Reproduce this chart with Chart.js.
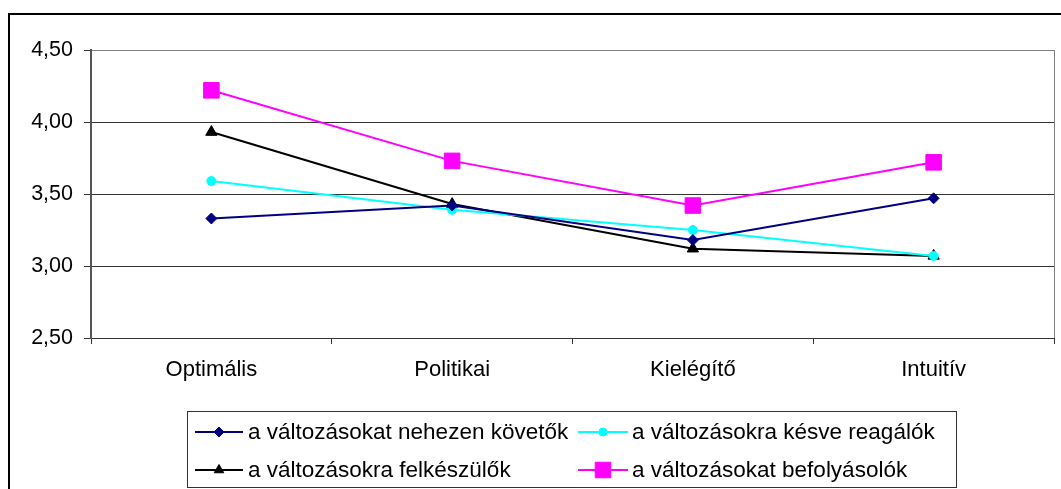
<!DOCTYPE html>
<html>
<head>
<meta charset="utf-8">
<script src="https://cdn.jsdelivr.net/npm/chart.js"></script>
<style>
  html, body { margin: 0; padding: 0; background: #fff; }
  #wrap { width: 1061px; height: 489px; position: relative; }
</style>
</head>
<body>
<div id="wrap"><canvas id="chart"></canvas></div>
<script>
const categories = ["Optimális", "Politikai", "Kielégítő", "Intuitív"];
const seriesNames = [
  "a változásokat nehezen követők",
  "a változásokra késve reagálók",
  "a változásokra felkészülők",
  "a változásokat befolyásolók"
];
const nehezenKovetok = [3.33, 3.42, 3.18, 3.47];
const kesveReagalok = [3.59, 3.39, 3.25, 3.07];
const felkeszulok = [3.93, 3.43, 3.12, 3.07];
const befolyasolok = [4.22, 3.73, 3.42, 3.72];
const yTicks = [2.5, 3.0, 3.5, 4.0, 4.5];

const FONT = "'Liberation Sans', Arial, sans-serif";

function series(label, data, color, style, radius) {
  return {
    label: label,
    data: data,
    borderColor: color,
    backgroundColor: color,
    borderWidth: 2,
    pointStyle: style,
    pointRadius: radius,
    pointHoverRadius: radius,
    pointBorderWidth: 1,
    pointBackgroundColor: color,
    pointBorderColor: color,
    tension: 0,
    fill: false
  };
}

// legend + borders drawn by hand, like the Excel original
const frame = {
  id: "frame",
  afterDraw(chart) {
    const ctx = chart.ctx;
    const area = chart.chartArea;
    ctx.save();

    // plot area right edge
    ctx.strokeStyle = "#808080";
    ctx.lineWidth = 1;
    ctx.beginPath();
    ctx.moveTo(Math.round(area.right) + 0.5, area.top);
    ctx.lineTo(Math.round(area.right) + 0.5, area.bottom);
    ctx.stroke();

    // outer chart border (runs off the picture)
    ctx.strokeStyle = "#000";
    ctx.lineWidth = 2;
    ctx.strokeRect(9, 14, 1200, 700);

    // legend box
    ctx.strokeStyle = "#333";
    ctx.lineWidth = 1;
    ctx.strokeRect(187.5, 411.5, 769, 76);

    const slots = [
      { x1: 195, x2: 243, tx: 248, y: 432 },
      { x1: 578, x2: 628, tx: 632, y: 432 },
      { x1: 195, x2: 243, tx: 248, y: 470 },
      { x1: 578, x2: 628, tx: 632, y: 470 }
    ];
    const legendRadius = { rectRot: 5, circle: 4, triangle: 5.5, rect: 11 };
    ctx.font = "22.5px " + FONT;
    ctx.textBaseline = "middle";
    ctx.textAlign = "left";
    chart.data.datasets.forEach((ds, i) => {
      const s = slots[i];
      ctx.strokeStyle = ds.borderColor;
      ctx.fillStyle = ds.borderColor;
      ctx.lineWidth = 2;
      ctx.beginPath();
      ctx.moveTo(s.x1, s.y);
      ctx.lineTo(s.x2, s.y);
      ctx.stroke();
      ctx.lineWidth = 1;
      Chart.helpers.drawPoint(ctx, {
        pointStyle: ds.pointStyle,
        radius: legendRadius[ds.pointStyle],
        rotation: 0,
        borderWidth: 1
      }, (s.x1 + s.x2) / 2, s.y);
      ctx.fillStyle = "#000";
      ctx.fillText(ds.label, s.tx, s.y + 1);
    });
    ctx.restore();
  }
};

new Chart(document.getElementById("chart"), {
  type: "line",
  data: {
    labels: categories,
    datasets: [
      series(seriesNames[0], nehezenKovetok, "#000080", "rectRot", 5.5),
      series(seriesNames[1], kesveReagalok, "#00FFFF", "circle", 4.5),
      series(seriesNames[2], felkeszulok, "#000000", "triangle", 6.5),
      series(seriesNames[3], befolyasolok, "#FF00FF", "rect", 11)
    ]
  },
  options: {
    responsive: true,
    maintainAspectRatio: false,
    animation: false,
    layout: {
      autoPadding: false,
      padding: { top: 50, right: 7, bottom: 0, left: 0 }
    },
    plugins: {
      legend: { display: false },
      tooltip: { enabled: false }
    },
    scales: {
      x: {
        offset: true,
        grid: {
          offset: true,
          drawOnChartArea: false,
          drawTicks: true,
          tickLength: 6,
          color: "#333"
        },
        border: { display: true, color: "#333", width: 1 },
        ticks: {
          color: "#000",
          font: { family: FONT, size: 22 },
          padding: 13,
          maxRotation: 0
        },
        afterFit: function (s) {
          s.height = 151;
          s.paddingLeft = 0;
          s.paddingRight = 0;
        }
      },
      y: {
        min: 2.5,
        max: 4.5,
        afterBuildTicks: function (s) {
          s.ticks = yTicks.map(v => ({ value: v }));
        },
        grid: {
          color: ctx => (ctx.tick && ctx.tick.value === 4.5) ? "#808080" : "#333",
          tickColor: "#333",
          tickLength: 7,
          lineWidth: 1
        },
        border: { display: true, color: "#555", width: 2 },
        ticks: {
          color: "#000",
          font: { family: FONT, size: 21.5 },
          padding: 11,
          callback: v => v.toFixed(2).replace(".", ",")
        },
        afterFit: function (s) { s.width = 91; }
      }
    }
  },
  plugins: [frame]
});
</script>
</body>
</html>
